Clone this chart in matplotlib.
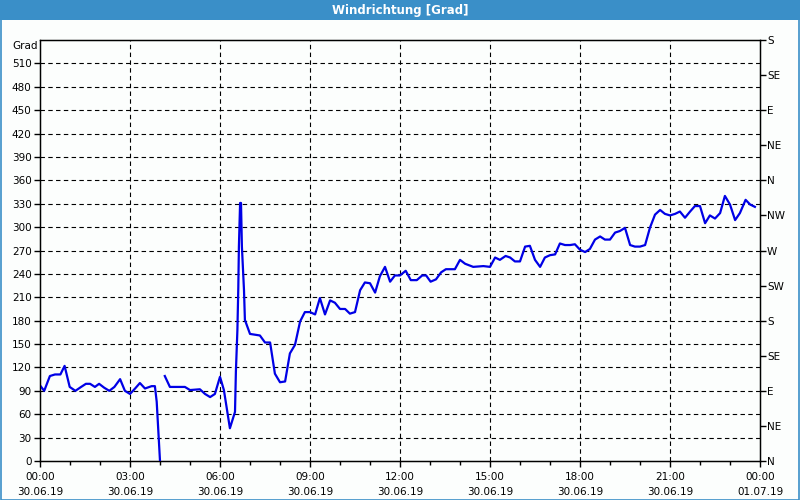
import numpy as np
import matplotlib
matplotlib.use("Agg")
import matplotlib.pyplot as plt
from matplotlib.patches import Rectangle

# time in hours since 30.06.19 00:00, wind direction in degrees (nan = gap)
hours = [0.0, 0.14, 0.33, 0.5, 0.68, 0.82, 0.99, 1.18, 1.37, 1.53, 1.67, 1.83, 1.97,
         2.14, 2.31, 2.48, 2.67, 2.83, 3.0, 3.17, 3.33, 3.5, 3.72, 3.83, 3.89, 4.0,
         4.08,
         4.16, 4.33, 4.83, 5.0, 5.33, 5.5, 5.67, 5.83, 6.0, 6.13, 6.33, 6.5, 6.53,
         6.58, 6.61, 6.63, 6.67, 6.7, 6.73, 6.8, 6.83, 7.0, 7.33, 7.5, 7.67, 7.83,
         8.0, 8.17, 8.33, 8.5, 8.67, 8.83, 9.0, 9.17, 9.33, 9.5, 9.67, 9.83, 10.0,
         10.17, 10.33, 10.5, 10.67, 10.83, 11.0, 11.17, 11.33, 11.5, 11.67, 11.83,
         12.0, 12.19, 12.36, 12.56, 12.74, 12.87, 13.02, 13.2, 13.37, 13.53, 13.83,
         14.0, 14.17, 14.44, 14.78, 15.0, 15.17, 15.33, 15.52, 15.67, 15.83, 16.0,
         16.17, 16.33, 16.5, 16.67, 16.83, 17.0, 17.17, 17.33, 17.5, 17.67, 17.83,
         18.0, 18.17, 18.33, 18.5, 18.67, 18.83, 19.0, 19.17, 19.33, 19.5, 19.67,
         19.83, 20.0, 20.17, 20.33, 20.5, 20.67, 20.83, 21.0, 21.17, 21.33, 21.5,
         21.67, 21.83, 22.0, 22.17, 22.33, 22.5, 22.67, 22.83, 23.0, 23.17, 23.33,
         23.52, 23.67, 23.83]
degrees = [97, 90, 109, 111, 111, 122, 95, 90, 95, 99, 99, 95, 99,
           94, 90, 95, 105, 90, 86, 93, 100, 93, 96, 96, 76, 0,
           np.nan,
           109, 95, 95, 91, 92, 86, 82, 86, 108, 91, 42, 63, 115,
           168, 222, 275, 331, 331, 275, 219, 181, 163, 161, 152, 152, 112,
           101, 102, 138, 149, 179, 191, 191, 188, 209, 188, 206, 203, 195,
           195, 189, 191, 219, 229, 228, 216, 237, 249, 230, 238,
           238, 244, 232, 232, 238, 238, 230, 233, 242, 246, 246,
           258, 253, 249, 250, 249, 261, 258, 263, 261, 256, 256,
           275, 276, 258, 249, 261, 264, 265, 279, 277, 277, 278,
           271, 268, 272, 284, 288, 284, 284, 293, 295, 299, 277,
           275, 275, 277, 299, 316, 322, 317, 315, 317, 320, 312,
           320, 327, 327, 305, 315, 311, 318, 340, 329, 309, 318,
           335, 329, 326]

x_ticks = [0, 3, 6, 9, 12, 15, 18, 21, 24]
x_labels = ["00:00\n30.06.19", "03:00\n30.06.19", "06:00\n30.06.19", "09:00\n30.06.19",
            "12:00\n30.06.19", "15:00\n30.06.19", "18:00\n30.06.19", "21:00\n30.06.19",
            "00:00\n01.07.19"]
y_ticks = list(range(0, 511, 30))
compass_ticks = list(range(0, 541, 45))
compass_labels = ["N", "NE", "E", "SE", "S", "SW", "W", "NW", "N", "NE", "E", "SE", "S"]

plt.rcParams['font.family'] = ['DejaVu Sans']
plt.rcParams['font.size'] = 7.5

fig = plt.figure(figsize=(8, 5), dpi=100)
fig.patch.set_facecolor("#fcfefd")

# title bar + thin blue frame
fig.patches.append(Rectangle((0, 0.96), 1, 0.04, transform=fig.transFigure,
                             facecolor="#3a8fc8", edgecolor="none", zorder=0))
fig.patches.append(Rectangle((0.001, 0.001), 0.998, 0.998, transform=fig.transFigure,
                             facecolor="none", edgecolor="#3a8fc8", linewidth=1.2, zorder=0))
fig.text(0.5, 0.979, "Windrichtung [Grad]", color="white", fontweight="bold",
         ha="center", va="center", fontsize=8.5)

ax = fig.add_axes([0.05, 0.078, 0.9, 0.842])
ax.set_facecolor("#fcfefd")
ax.plot(hours, degrees, color="#0000e6", linewidth=1.6, zorder=3)

ax.set_xlim(0, 24)
ax.set_ylim(0, 540)
ax.set_xticks(x_ticks)
ax.set_xticklabels(x_labels, linespacing=1.6)
ax.set_xticks(range(0, 25), minor=True)
ax.set_yticks(y_ticks)
ax.tick_params(axis="x", which="major", length=4, width=1, pad=4)
ax.tick_params(axis="x", which="minor", length=3, width=1)
ax.tick_params(axis="y", length=4, width=1, pad=2)

for t in x_ticks[1:-1]:
    ax.axvline(t, color="black", linewidth=0.8, linestyle=(0, (4, 3)), zorder=1)
for v in y_ticks[1:]:
    ax.axhline(v, color="black", linewidth=0.8, linestyle=(0, (4, 3)), zorder=1)

for s in ax.spines.values():
    s.set_linewidth(1)
    s.set_color("black")

ax2 = ax.twinx()
ax2.set_ylim(0, 540)
ax2.set_yticks(compass_ticks)
ax2.set_yticklabels(compass_labels)
ax2.tick_params(axis="y", length=4, width=1, pad=1)

fig.text(0.047, 0.908, "Grad", ha="right", va="center", fontsize=7.5)

fig.savefig("out.png", dpi=100, facecolor=fig.get_facecolor())
